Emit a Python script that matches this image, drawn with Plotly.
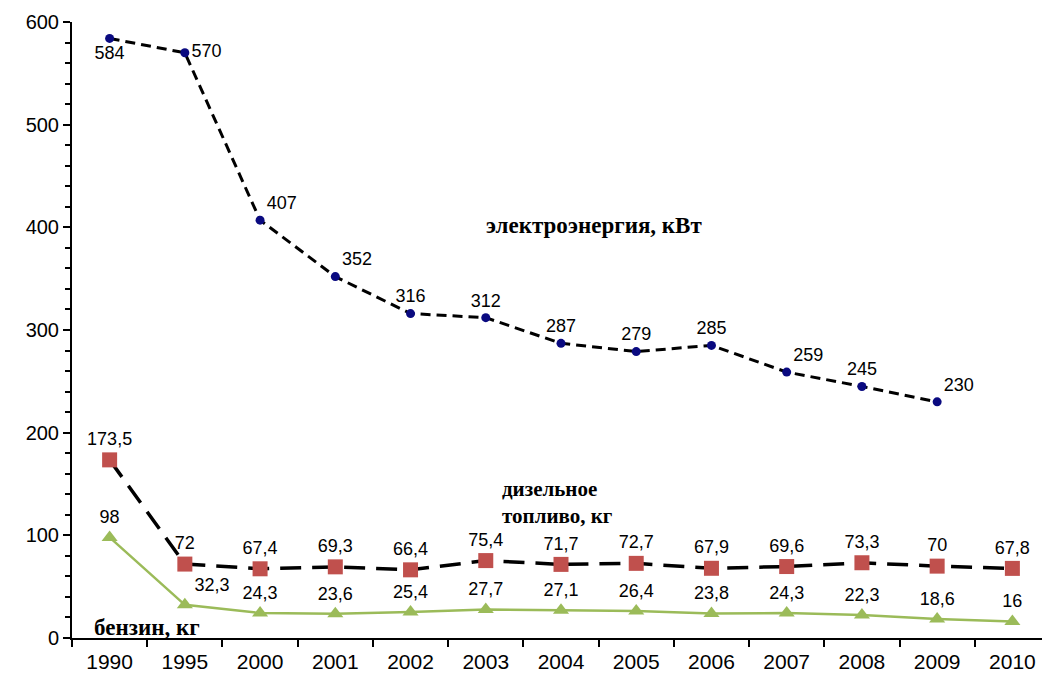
import plotly.graph_objects as go

years = ["1990", "1995", "2000", "2001", "2002", "2003", "2004", "2005", "2006", "2007", "2008", "2009", "2010"]
electro = [584, 570, 407, 352, 316, 312, 287, 279, 285, 259, 245, 230]
diesel = [173.5, 72, 67.4, 69.3, 66.4, 75.4, 71.7, 72.7, 67.9, 69.6, 73.3, 70, 67.8]
benzin = [98, 32.3, 24.3, 23.6, 25.4, 27.7, 27.1, 26.4, 23.8, 24.3, 22.3, 18.6, 16]

def fmt(v):
    return ("%g" % v).replace(".", ",")

electro_pos = ["bottom center", "middle right", "top right", "top right", "top center", "top center",
               "top center", "top center", "top center", "top right", "top center", "top right"]
diesel_pos = ["top center"] * 13
benzin_pos = ["top center", "top right"] + ["top center"] * 11

label_font = dict(family="Liberation Sans, Arial", size=18, color="black")

fig = go.Figure()
fig.add_trace(go.Scatter(
    x=years[:len(electro)], y=electro, mode="lines+markers+text",
    line=dict(color="black", width=3, dash="10px,6px"),
    marker=dict(symbol="circle", size=9, color="#0a0a80"),
    text=[fmt(v) for v in electro], textposition=electro_pos, textfont=label_font,
    cliponaxis=False, showlegend=False))
fig.add_trace(go.Scatter(
    x=years, y=diesel, mode="lines+markers+text",
    line=dict(color="black", width=3.5, dash="21px,11px"),
    marker=dict(symbol="square", size=15, color="#C0504D"),
    text=[fmt(v) for v in diesel], textposition=diesel_pos, textfont=label_font,
    cliponaxis=False, showlegend=False))
fig.add_trace(go.Scatter(
    x=years, y=benzin, mode="lines+markers+text",
    line=dict(color="#9BBB59", width=2.5),
    marker=dict(symbol="triangle-up", size=14, color="#9BBB59"),
    text=[fmt(v) for v in benzin], textposition=benzin_pos, textfont=label_font,
    cliponaxis=False, showlegend=False))

ann_font = dict(family="Liberation Serif, Times New Roman", size=23, color="black")
fig.add_annotation(x=4.98, y=402, xref="x", yref="y", xanchor="left", text="<b>электроэнергия, кВт</b>",
                   showarrow=False, font=ann_font)
fig.add_annotation(x=5.19, y=132, xref="x", yref="y", xanchor="left", align="left",
                   text="<b>дизельное<br>топливо, кг</b>",
                   showarrow=False, font=dict(family="Liberation Serif, Times New Roman", size=21, color="black"))
fig.add_annotation(x=-0.23, y=10, xref="x", yref="y", xanchor="left", text="<b>бензин, кг</b>",
                   showarrow=False, font=ann_font)

fig.update_layout(
    width=1042, height=669,
    margin=dict(l=64, r=0, t=14, b=39),
    paper_bgcolor="white", plot_bgcolor="white",
    font=dict(family="Liberation Sans, Arial", size=20, color="black"),
    xaxis=dict(type="category", range=[-0.5, 12.5], showline=True, linecolor="black", linewidth=2,
               ticks="outside", ticklen=7, tickwidth=2, tickcolor="black", tickson="boundaries",
               showgrid=False, tickfont=dict(size=21), ticklabelstandoff=4),
    yaxis=dict(range=[0, 600], dtick=100, showline=True, linecolor="black", linewidth=2,
               ticks="outside", ticklen=7, tickwidth=2, tickcolor="black", showgrid=False,
               zeroline=False, tickfont=dict(size=20),
               minor=dict(dtick=20, ticks="outside", ticklen=5, tickcolor="black", tickwidth=1.5, showgrid=False)),
)

fig.write_html("out.html")
